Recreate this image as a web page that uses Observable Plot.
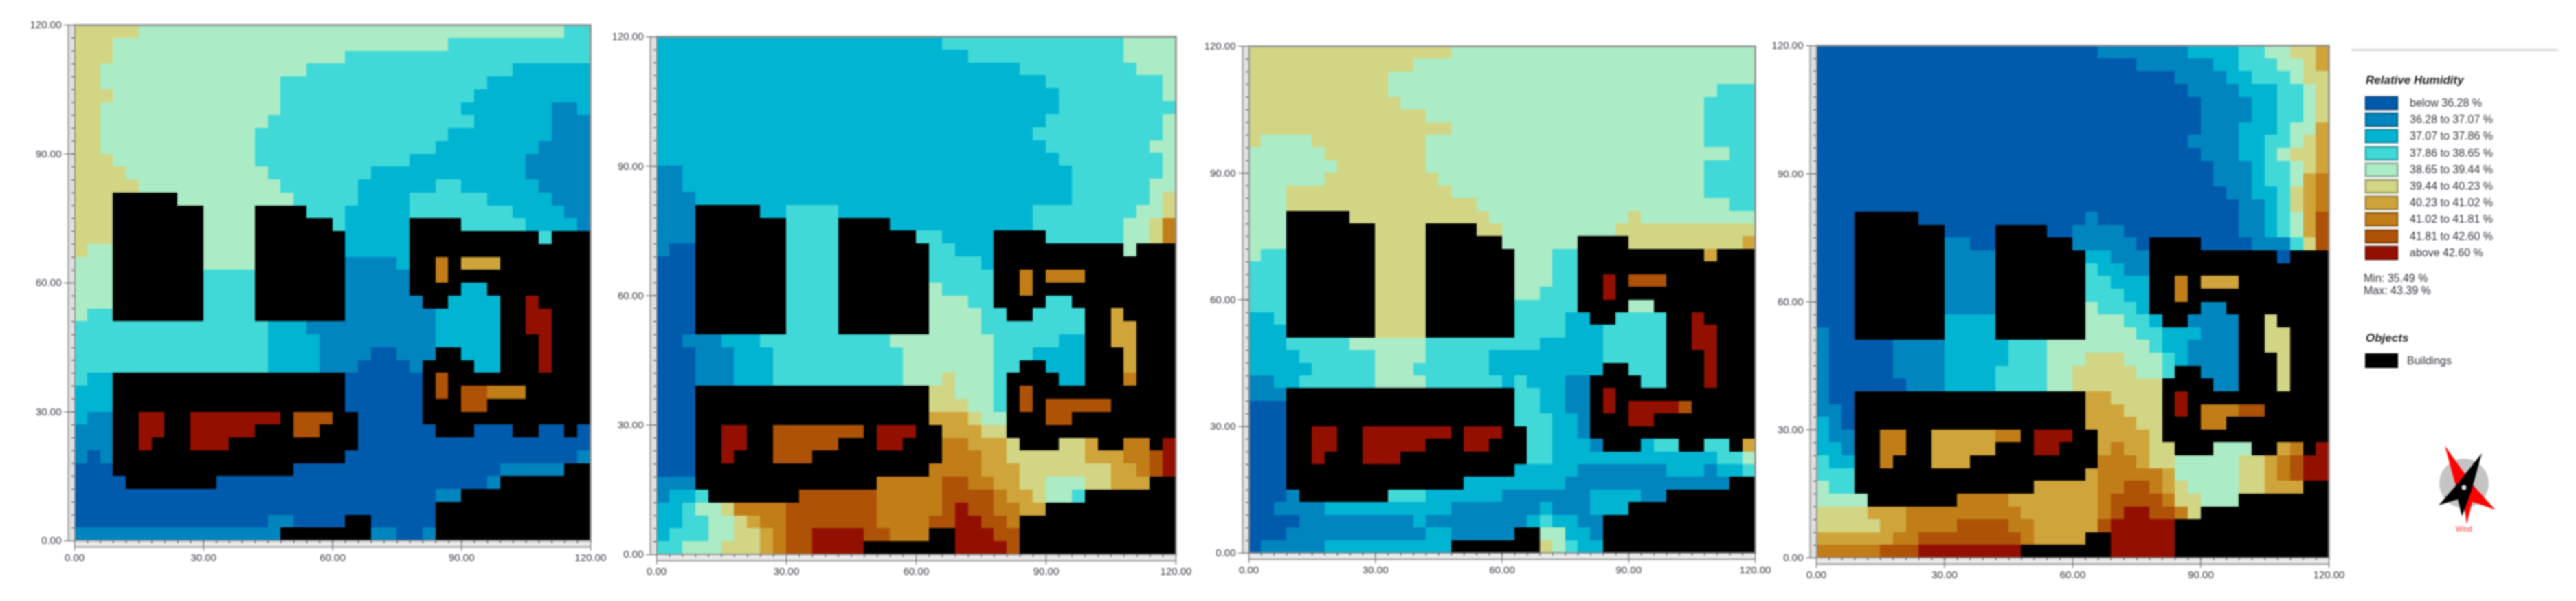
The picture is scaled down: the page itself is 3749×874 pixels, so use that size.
<!DOCTYPE html>
<html><head><meta charset="utf-8">
<script src="https://cdn.jsdelivr.net/npm/d3@7"></script>
<script src="https://cdn.jsdelivr.net/npm/@observablehq/plot@0.6"></script>
<style>
html,body{margin:0;padding:0;background:#fff}
#page{position:relative;width:3749px;height:874px;overflow:hidden;filter:blur(1.1px);font-family:"Liberation Sans",sans-serif;color:#34343e}
.panel{position:absolute}
.panel svg{display:block;overflow:visible;background:transparent}
.t{position:absolute;white-space:nowrap;font-size:16px;line-height:18px}
.h{position:absolute;white-space:nowrap;font-size:17px;line-height:18px;font-weight:bold;font-style:italic;color:#222}
.s{position:absolute;box-sizing:border-box;width:48px;height:20px;border:2px solid;box-shadow:0 0 0 1px #c8c8c8}
</style></head><body><div id="page"></div>
<script>
const classLabels = ["below 36.28 %","36.28 to 37.07 %","37.07 to 37.86 %","37.86 to 38.65 %","38.65 to 39.44 %","39.44 to 40.23 %","40.23 to 41.02 %","41.02 to 41.81 %","41.81 to 42.60 %","above 42.60 %"];
const classColors = ["#005bac","#0085bf","#00b4d2","#40d9d8","#abebc5","#d2d584","#cfa53b","#c17d18","#ae5208","#930f00"];
const minMax = ["Min: 35.49 %","Max: 43.39 %"];
const tickValues = [0,30,60,90,120];
const minorTicks = d3.range(0,121,3);

// each row: class, first column, class, first column ... (cells of 3 m, top row first)
const panel1Rows = [
[5,0,4,5,3,38],[5,0,4,3,3,29],[5,0,4,3,3,21],[5,0,4,2,3,18,2,34],[5,0,4,2,3,16,2,32],
[5,0,4,3,3,16,2,31],[5,0,4,2,3,16,2,30,1,37,2,39],[5,0,4,2,3,15,2,31,1,37],[5,0,4,2,3,14,2,29,1,37],[5,0,4,2,3,14,2,28,1,36],
[5,0,4,3,3,14,2,26,1,35],[5,0,4,4,3,15,2,23,1,35],[5,0,4,5,3,16,2,22,3,28,2,30,1,36],[5,0,4,8,3,17,2,22,3,26,2,32,1,37],[5,0,4,10,3,18,2,21,3,26,2,34,1,38],
[5,0,4,10,3,20,2,21,3,30,2,35,1,39],[5,0,4,10,2,21,3,36],[5,0,4,1,4,10,2,21],[4,0,1,21,2,25],[4,0,3,10,1,21],
[4,0,3,10,1,21,2,30],[4,0,3,10,1,21,2,29],[4,0,3,1,1,21,2,28],[3,0,2,15,1,18,2,28],[3,0,2,15,1,19,2,28],
[3,0,2,15,1,19,0,23,1,25,2,30],[3,0,2,15,1,19,0,22,1,26,2,31],[3,0,2,1,0,21],[2,0,0,21],[2,0,0,21],
[2,0,1,1,0,22],[1,0,0,22],[1,0,0,22],[1,0,0,1,1,2,0,21,1,39],[0,0,1,33],
[0,0,1,32],[0,0,1,28],[0,0],[0,0,1,15,0,17],[1,0,0,25,1,27]];
const panel2Rows = [
[2,0,3,22,4,36],[2,0,3,24,4,36],[2,0,3,28,4,37],[2,0,3,30,4,39],[2,0,3,31,4,39],
[2,0,3,31],[2,0,3,30,4,39],[2,0,3,29,4,39],[2,0,3,30,4,38],[2,0,3,31,4,39],
[1,0,2,2,3,32,4,39],[1,0,2,2,3,32,4,38],[1,0,2,3,3,32,4,38,5,39],[1,0,2,8,3,10,2,14,3,29,4,37,5,39],[1,0,3,10,2,18,3,29,4,36,5,38,7,39],
[1,0,3,10,2,22,3,30,4,36,5,38,7,39],[1,0,0,1,3,10,2,23,4,36],[0,0,3,10,2,25],[0,0,3,10],[0,0,3,10,4,21,3,22],
[0,0,3,10,4,21,3,24],[0,0,3,10,4,21,3,25],[0,0,3,10,4,21,3,25],[0,0,1,2,2,5,3,8,4,18,3,26,2,31],[0,0,1,3,2,6,3,9,4,19,3,26,2,29],
[0,0,1,3,2,6,3,9,4,19,3,26,2,30],[0,0,1,3,2,6,3,9,4,19,5,22,4,23,3,26,2,31],[0,0,5,21,4,23,3,26],[0,0,5,21,4,24,3,26],[0,0,6,21,5,24,4,25],
[0,0,6,22,5,25],[0,0,7,22,6,24,5,27,6,33,7,36,9,39],[0,0,7,22,6,25,5,27,6,33,7,36,8,38,9,39],[0,0,7,21,6,25,5,28,6,35,7,37,8,38,9,39],[1,0,7,17,8,22,7,24,6,26,5,28,4,30,5,33,6,35],
[1,0,2,1,3,3,8,11,7,17,8,22,7,26,6,27,5,29,4,30,3,32],[2,0,3,2,4,3,5,5,7,6,8,10,7,17,8,22,9,23,8,24,7,26,6,28],[2,0,3,2,4,4,5,6,6,7,7,8,8,10,7,17,8,21,9,23,8,25,7,27],[2,0,3,1,4,4,5,6,6,8,7,9,8,10,9,12,8,16,7,18,9,23,8,26],[3,0,4,2,5,5,6,8,7,9,8,10,9,12,9,23,8,27]];
const panel3Rows = [
[5,0,4,16],[5,0,4,13],[5,0,4,11],[5,0,4,11,3,37],[5,0,4,12,3,36],
[5,0,4,14,3,36],[5,0,4,16,3,36],[5,0,4,1,5,5,4,14,3,36],[4,0,5,6,4,14,3,38],[4,0,5,7,4,14,3,36],
[4,0,5,6,4,15,3,36],[4,0,5,3,4,16,3,36],[4,0,5,3,4,18,3,38],[4,0,5,8,4,19,5,30,4,31],[4,0,5,10,4,20,5,29],
[4,0,5,10,4,20,5,30,6,39],[4,0,3,1,5,10,4,21,3,24,6,36],[3,0,5,10,4,21,3,24],[3,0,5,10,4,21,3,24],[3,0,5,10,4,21,3,23],
[3,0,5,10,3,21,4,30],[2,0,3,2,5,10,3,21,2,25,3,29],[2,0,5,10,3,21,2,25,3,28],[2,0,3,3,4,8,3,14,2,23,3,28],[2,0,3,4,4,10,3,14,2,19,3,28],
[2,0,3,5,4,10,3,13,2,19,3,30],[1,0,2,2,3,4,4,10,3,14,2,20,3,21,2,22,1,25,3,31],[1,0,3,21,2,23,1,25],[0,0,3,21,2,23,1,25],[0,0,3,21,2,24,1,26],
[0,0,3,22,2,24,1,26],[0,0,3,22,2,24,1,27,2,31,3,32,6,39],[0,0,3,22,2,24,3,37,4,39],[0,0,2,21,1,26,2,33,1,36,2,37,3,39],[0,0,2,17,1,25],
[0,0,1,3,3,11,2,14,1,20,2,27,1,31],[0,0,1,2,2,6,1,16,2,23,1,24,2,27],[0,0,1,4,2,13,1,14,2,22,3,23,2,24,1,26],[0,0,1,3,2,14,1,16,4,23,2,25,1,27],[0,0,1,1,2,6,5,23,4,24,3,25,2,26]];
const panel4Rows = [
[0,0,1,22,2,29,3,33,4,35,5,37,6,39],[0,0,1,25,2,31,3,33,4,36,5,38,6,39],[0,0,1,28,2,32,3,34,4,37,5,38],[0,0,1,29,2,33,3,36,4,38,5,39],[0,0,1,30,2,34,3,36,4,38,5,39],
[0,0,1,30,2,34,3,36,4,38,5,39],[0,0,1,30,2,33,3,36,4,37,6,39],[0,0,1,29,2,33,3,35,4,37,5,38,6,39],[0,0,1,30,2,33,3,35,4,36,5,37,6,39],[0,0,1,31,2,34,3,35,4,37,5,38,6,39],
[0,0,1,31,2,34,3,35,4,37,6,38,7,39],[0,0,1,32,2,34,3,36,5,37,6,38,7,39],[0,0,1,33,2,35,3,36,5,37,6,38,7,39],[0,0,1,21,0,22,1,33,2,35,3,36,4,37,6,38,8,39],[0,0,1,20,0,24,1,33,2,35,3,36,4,37,6,38,8,39],
[0,0,1,10,0,12,1,20,0,25,1,34,3,37,5,38,8,39],[0,0,1,10,2,21,1,23,0,36],[0,0,1,10,3,21,2,22,1,24],[0,0,1,10,3,21,2,23],[0,0,1,10,3,21,2,24],
[0,0,1,10,4,21,3,22,2,25,1,30],[0,0,2,10,4,21,3,24,2,26,1,29],[1,0,0,1,2,10,4,21,3,25,2,27,1,30],[1,0,0,1,1,6,2,10,3,15,4,18,3,26,2,27,1,29],[1,0,0,1,1,6,2,10,3,15,4,18,5,21,4,24,3,27,2,28,1,29],
[1,0,0,1,1,6,2,10,3,14,4,18,5,20,4,25,3,27,1,30],[1,0,0,1,1,7,2,10,3,14,4,18,5,20,1,31],[1,0,0,1,6,21,5,23],[1,0,0,2,6,21,5,24],[2,0,1,1,0,2,6,21,5,25],
[2,0,1,1,6,22,5,26],[2,0,1,2,6,22,7,23,6,24,5,26,4,31,6,36,7,37,9,39],[3,0,2,1,7,22,6,25,5,26,4,28,5,33,6,35,7,36,8,37,9,38],[3,0,6,21,7,22,6,27,4,28,5,33,6,35,7,36,8,37,9,38],[4,0,3,1,6,17,7,22,8,24,7,26,6,27,5,28,4,29,5,33,6,35],
[4,0,7,11,6,15,7,22,8,23,7,27,5,28,4,30],[5,0,6,4,7,7,6,16,7,22,8,23,9,24,8,26,7,28,5,29],[5,0,6,5,7,7,8,11,7,15,6,17,8,22,9,23],[6,0,7,6,8,8,7,16,6,17,9,23],[7,0,8,5,9,8,9,23]];

// roof patches seen through the building outlines: row, first column, last column
const roofPatches = [[18,28,28],[19,28,28],[18,30,32],[21,35,35],[22,35,36],[23,35,36],[24,36,36],[25,36,36],[26,36,36],[27,28,28],[28,28,28],[28,30,31],[28,32,32],[28,33,33],[28,34,34],[29,30,31],[30,5,6],[31,5,6],[32,5,5],[30,9,13],[30,14,15],[31,9,13],[32,9,11],[30,17,19],[31,17,18]];
const panel1Roofs = [7,7,6,9,9,9,9,9,9,8,8,8,7,7,7,8,9,9,9,9,9,9,9,8,8];
const panel2Roofs = [7,7,7,6,6,6,6,6,7,8,8,8,8,8,8,8,9,9,9,8,8,8,8,9,9];
const panel3Roofs = [9,9,8,9,9,9,9,9,9,9,9,9,9,9,8,9,9,9,9,9,9,9,9,9,9];
const panel4Roofs = [7,7,6,5,5,5,5,5,5,9,9,7,7,8,8,7,7,7,7,6,7,6,6,9,9];

// building footprint: per row (0 = top), pairs of first and last column
const buildingRows = {
13:[3,7],14:[3,9,14,17],15:[3,9,14,19,26,29],16:[3,9,14,20,26,35,37,39],17:[3,9,14,20,26,39],
18:[3,9,14,20,26,27,29,29,33,39],19:[3,9,14,20,26,27,29,39],20:[3,9,14,20,26,29,32,39],21:[3,9,14,20,27,28,33,34,36,39],22:[3,9,14,20,33,34,37,39],
23:[33,34,37,39],24:[33,35,37,39],25:[28,29,33,35,37,39],26:[27,30,33,35,37,39],27:[3,20,27,27,29,39],
28:[3,20,27,27,29,29,35,39],29:[3,20,27,29,32,39],30:[3,4,7,8,16,16,20,21,27,39],31:[3,4,7,8,14,16,19,21,28,30,34,35,38,38],32:[3,4,6,8,12,21],
33:[3,20],34:[3,16,38,39],35:[4,10,33,39],36:[30,39],37:[28,39],38:[21,22,28,39],39:[16,22,28,39]};

const layout = [
 {rows:panel1Rows,roofs:panel1Roofs,x0:108,x1:859,y0:36,y1:786},
 {rows:panel2Rows,roofs:panel2Roofs,x0:955,x1:1711,y0:53,y1:806},
 {rows:panel3Rows,roofs:panel3Roofs,x0:1817,x1:2554,y0:67,y1:804},
 {rows:panel4Rows,roofs:panel4Roofs,x0:2643,x1:3389,y0:66,y1:811}];

const cellSize = 3, fmt = d => d.toFixed(2), page = document.getElementById("page");
const spanOf = (r,a,b,cls) => ({x1:a*cellSize,x2:(b+1)*cellSize,y1:120-(r+1)*cellSize,y2:120-r*cellSize,cls});
const buildings = Object.entries(buildingRows).flatMap(([r,p]) => d3.range(0,p.length,2).map(i => spanOf(+r,p[i],p[i+1])));

layout.forEach(p => {
  const field = p.rows.flatMap((row,r) => d3.range(0,row.length,2).map(i => spanOf(r,row[i+1],(i+3<row.length?row[i+3]:40)-1,classLabels[row[i]])));
  const roofs = roofPatches.map((s,i) => spanOf(s[0],s[1],s[2],classLabels[p.roofs[i]]));
  const ml=70,mt=12,mr=40,mb=44;
  const rect = (d,o) => Plot.rect(d,{x1:"x1",x2:"x2",y1:"y1",y2:"y2",shapeRendering:"crispEdges",...o});
  const chart = Plot.plot({
    width:p.x1-p.x0+ml+mr,height:p.y1-p.y0+mt+mb,marginLeft:ml,marginRight:mr,marginTop:mt,marginBottom:mb,
    style:{fontFamily:"Liberation Sans",fontSize:"15px",color:"#34343e",background:"transparent"},
    x:{domain:[0,120]},y:{domain:[0,120]},
    color:{type:"ordinal",domain:classLabels,range:classColors},
    marks:[
      rect(field,{fill:"cls"}),
      rect(roofs,{fill:"cls"}),
      rect(buildings,{fill:"#000"}),
      Plot.frame({stroke:"#8c8c8c",strokeWidth:2.5}),
      Plot.ruleY([0],{dy:5,stroke:"#e9e9e9",strokeWidth:9}),
      Plot.ruleX([0],{dx:-5,stroke:"#e0e0e0",strokeWidth:9}),
      Plot.ruleY([0],{dy:9,stroke:"#9a9a9a",strokeWidth:2}),
      Plot.ruleX([0],{dx:-9,stroke:"#9a9a9a",strokeWidth:2}),
      Plot.axisX({ticks:minorTicks,tickSize:4,tickFormat:()=>"",label:null,stroke:"#333"}),
      Plot.axisY({ticks:minorTicks,tickSize:4,tickFormat:()=>"",label:null,stroke:"#333"}),
      Plot.axisX({ticks:tickValues,tickFormat:fmt,tickSize:15,tickPadding:4,label:null,stroke:"#555"}),
      Plot.axisY({ticks:tickValues,tickFormat:fmt,tickSize:15,tickPadding:4,label:null,stroke:"#555"})
    ]});
  const box = document.createElement("div");
  box.className = "panel";
  box.style.left = (p.x0-ml)+"px"; box.style.top = (p.y0-mt)+"px";
  box.appendChild(chart); page.appendChild(box);
});

// legend
const add = (cls,txt,x,y) => {const e=document.createElement("div");e.className=cls;e.textContent=txt;e.style.left=x+"px";e.style.top=y+"px";page.appendChild(e);return e;};
const bar = add("t","",3422,71); bar.style.cssText += "width:301px;height:3px;background:#d6d6d6";
add("h","Relative Humidity",3443,108);
classLabels.forEach((l,i) => {
  const y = 150+i*24.2;
  const s = add("s","",3442,y-10);
  s.style.background = classColors[i];
  s.style.borderColor = d3.color(classColors[i]).darker(0.8).formatHex();
  add("t",l,3507,y-9);
});
add("t",minMax[0],3440,396);
add("t",minMax[1],3440,414);
add("h","Objects",3443,483);
const bs = add("s","",3442,514); bs.style.cssText += "background:#000;border-color:#000;height:21px;box-shadow:none";
add("t","Buildings",3503,516);
const wr = document.createElementNS("http://www.w3.org/2000/svg","svg");
wr.setAttribute("width",120);wr.setAttribute("height",150);wr.setAttribute("viewBox","3530 640 120 150");
wr.style.cssText="position:absolute;left:3530px;top:640px";
wr.innerHTML=`<circle cx="3586" cy="703" r="36" fill="#c4c4c4"/>
<polygon fill="#f00" points="3558,648 3597,703 3631,741 3598,730 3590,762 3583,715 3573,703"/>
<polygon fill="#000" points="3612,659 3597,713 3583,751 3577,726 3549,735 3577,703"/>
<circle cx="3586" cy="709" r="3.5" fill="#dfe6ea"/>
<text x="3586" y="773" text-anchor="middle" font-size="10.5" fill="#f33" font-family="Liberation Sans">Wind</text>`;
page.appendChild(wr);
</script></body></html>
